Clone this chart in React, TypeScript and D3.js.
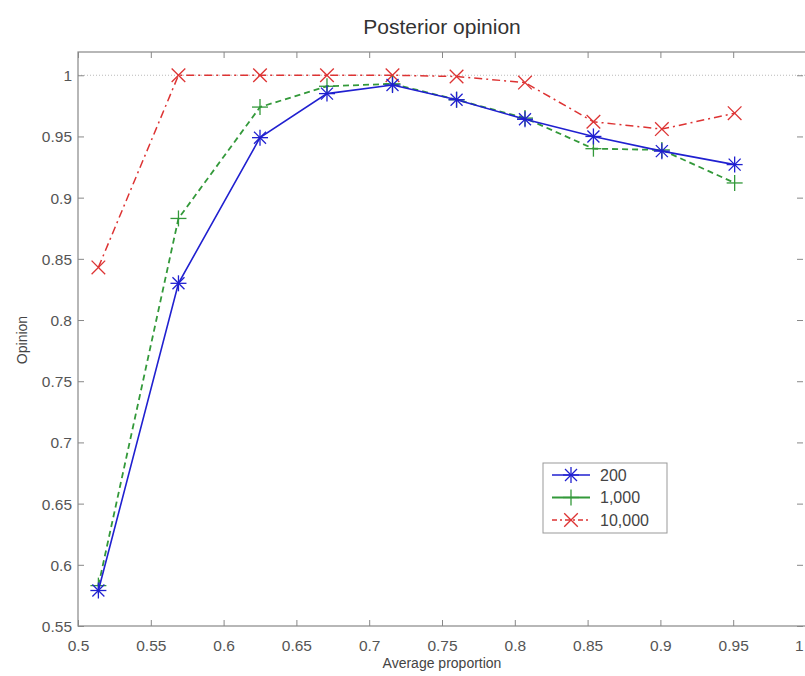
import React, { useEffect, useRef } from 'react';
import * as d3 from 'd3';

// Data
const proportions = [0.514, 0.569, 0.625, 0.671, 0.716, 0.76, 0.807, 0.854, 0.901, 0.951];
const opinion200 = [0.579, 0.83, 0.949, 0.985, 0.992, 0.98, 0.964, 0.95, 0.938, 0.927];
const opinion1000 = [0.583, 0.883, 0.974, 0.991, 0.993, 0.98, 0.965, 0.94, 0.939, 0.912];
const opinion10000 = [0.843, 1.0, 1.0, 1.0, 1.0, 0.999, 0.994, 0.962, 0.956, 0.969];
const seriesNames = ['200', '1,000', '10,000'];
const xTicks = [0.5, 0.55, 0.6, 0.65, 0.7, 0.75, 0.8, 0.85, 0.9, 0.95, 1];
const yTicks = [0.55, 0.6, 0.65, 0.7, 0.75, 0.8, 0.85, 0.9, 0.95, 1];

const App = () => {
  const ref = useRef<SVGSVGElement | null>(null);

  useEffect(() => {
    const width = 805;
    const height = 676;
    const left = 78;
    const right = 806;
    const top = 52;
    const bottom = 626;
    const font = 'Arial, "Liberation Sans", sans-serif';

    const svg = d3.select(ref.current);
    svg.selectAll('*').remove();
    svg.attr('width', width).attr('height', height);

    const x = d3.scaleLinear().domain([0.5, 1]).range([left, right]);
    const y = d3.scaleLinear().domain([0.55, 1.019]).range([bottom, top]);

    // reference line at 1
    svg
      .append('line')
      .attr('x1', left)
      .attr('x2', right)
      .attr('y1', y(1))
      .attr('y2', y(1))
      .attr('stroke', '#bbb')
      .attr('stroke-width', 1)
      .attr('stroke-dasharray', '1,2');

    // axes box
    svg
      .append('rect')
      .attr('x', left)
      .attr('y', top)
      .attr('width', right - left)
      .attr('height', bottom - top)
      .attr('fill', 'none')
      .attr('stroke', '#888')
      .attr('stroke-width', 1.2);

    // ticks inward on all sides
    const axisColor = '#888';
    const tickLen = 6;
    const fmt = (d: any) => d3.format('~g')(d as number);
    const bottomAxis = svg
      .append('g')
      .attr('transform', `translate(0,${bottom})`)
      .call(d3.axisBottom(x).tickValues(xTicks).tickSize(-tickLen).tickPadding(10).tickFormat(fmt));
    const topAxis = svg
      .append('g')
      .attr('transform', `translate(0,${top})`)
      .call(d3.axisTop(x).tickValues(xTicks).tickSize(-tickLen).tickFormat(() => ''));
    const leftAxis = svg
      .append('g')
      .attr('transform', `translate(${left},0)`)
      .call(d3.axisLeft(y).tickValues(yTicks).tickSize(-tickLen).tickPadding(6).tickFormat(fmt));
    const rightAxis = svg
      .append('g')
      .attr('transform', `translate(${right - 3},0)`)
      .call(d3.axisRight(y).tickValues(yTicks).tickSize(-tickLen).tickFormat(() => ''));

    [bottomAxis, topAxis, leftAxis, rightAxis].forEach((g) => {
      g.select('.domain').remove();
      g.selectAll('line').attr('stroke', axisColor);
      g.selectAll('text').attr('fill', '#555').attr('font-size', 15.5).attr('font-family', font);
    });
    bottomAxis.selectAll('text').attr('dy', '0.95em');
    leftAxis.selectAll('text').attr('dy', '0.35em');
    // keep the last x label inside the page
    bottomAxis
      .selectAll<SVGTextElement, number>('text')
      .filter((d) => d === 1)
      .attr('text-anchor', 'end')
      .attr('dx', -3);

    // titles
    svg
      .append('text')
      .attr('x', 442)
      .attr('y', 34)
      .attr('text-anchor', 'middle')
      .attr('font-family', font)
      .attr('font-size', 21)
      .attr('fill', '#333')
      .text('Posterior opinion');
    svg
      .append('text')
      .attr('x', 442)
      .attr('y', 668)
      .attr('text-anchor', 'middle')
      .attr('font-family', font)
      .attr('font-size', 14)
      .attr('fill', '#444')
      .text('Average proportion');
    svg
      .append('text')
      .attr('transform', `translate(27,340) rotate(-90)`)
      .attr('text-anchor', 'middle')
      .attr('font-family', font)
      .attr('font-size', 14)
      .attr('fill', '#444')
      .text('Opinion');

    const series = [
      { name: seriesNames[0], values: opinion200, color: '#2020d0', dash: null, width: 1.6, marker: 'star' },
      { name: seriesNames[1], values: opinion1000, color: '#33993a', dash: '6,4', width: 1.8, marker: 'plus' },
      { name: seriesNames[2], values: opinion10000, color: '#dd3333', dash: '8,4,2,4', width: 1.5, marker: 'cross' },
    ];

    const line = d3
      .line<[number, number]>()
      .x((d) => x(d[0]))
      .y((d) => y(d[1]));

    const drawMarker = (g: any, cx: number, cy: number, kind: string, color: string) => {
      const r = 8;
      const segs: number[][] = [];
      if (kind === 'plus' || kind === 'star') {
        segs.push([cx - r, cy, cx + r, cy], [cx, cy - r, cx, cy + r]);
      }
      if (kind === 'cross' || kind === 'star') {
        const k = kind === 'star' ? r * 0.75 : r * 0.85;
        segs.push([cx - k, cy - k, cx + k, cy + k], [cx - k, cy + k, cx + k, cy - k]);
      }
      segs.forEach((s) => {
        g.append('line')
          .attr('x1', s[0])
          .attr('y1', s[1])
          .attr('x2', s[2])
          .attr('y2', s[3])
          .attr('stroke', color)
          .attr('stroke-width', 1.3);
      });
    };

    // draw 10,000 first so others sit on top
    [...series].reverse().forEach((s) => {
      const pts = proportions.map((p, i) => [p, s.values[i]] as [number, number]);
      const path = svg
        .append('path')
        .datum(pts)
        .attr('fill', 'none')
        .attr('stroke', s.color)
        .attr('stroke-width', s.width)
        .attr('d', line);
      if (s.dash) path.attr('stroke-dasharray', s.dash);
      const g = svg.append('g');
      pts.forEach((d) => drawMarker(g, x(d[0]), y(d[1]), s.marker, s.color));
    });

    // legend
    const legend = svg.append('g').attr('transform', 'translate(543,463)');
    legend
      .append('rect')
      .attr('width', 124)
      .attr('height', 70)
      .attr('fill', '#fff')
      .attr('stroke', '#999')
      .attr('stroke-width', 1);
    series.forEach((s, i) => {
      const ly = 12 + i * 22.5;
      const l = legend
        .append('line')
        .attr('x1', 9)
        .attr('x2', 47)
        .attr('y1', ly)
        .attr('y2', ly)
        .attr('stroke', s.color)
        .attr('stroke-width', s.width);
      if (s.dash) l.attr('stroke-dasharray', s.dash === '6,4' ? '40' : '5,3,2,3');
      drawMarker(legend, 28, ly, s.marker, s.color);
      legend
        .append('text')
        .attr('x', 57)
        .attr('y', ly)
        .attr('dy', '0.35em')
        .attr('font-family', font)
        .attr('font-size', 16)
        .attr('fill', '#444')
        .text(s.name);
    });
  }, []);

  return <svg ref={ref} style={{ position: 'absolute', left: 0, top: 0 }} />;
};

export default App;
